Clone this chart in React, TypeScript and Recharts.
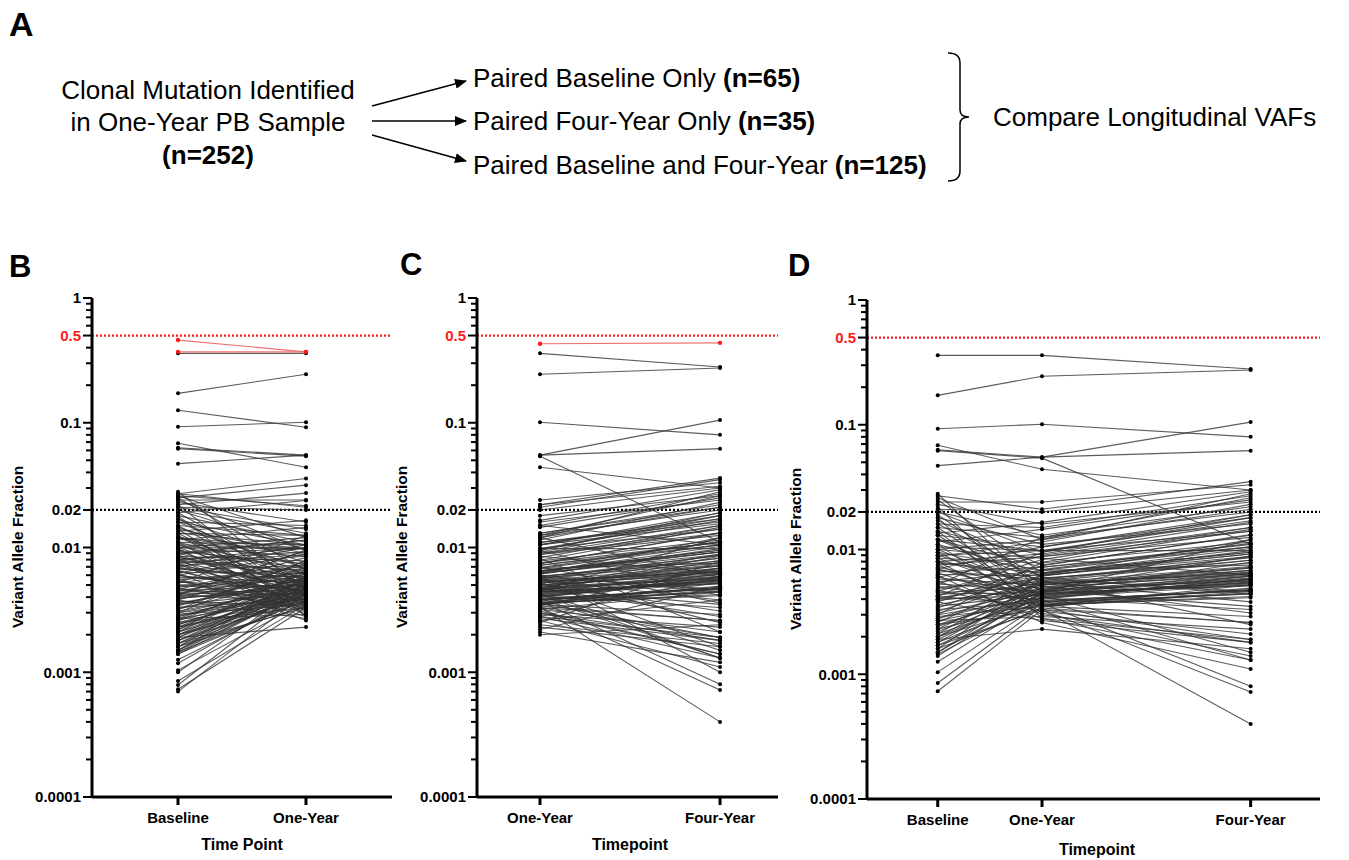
import React from 'react';
import { LineChart, Line, XAxis, YAxis, ReferenceLine } from 'recharts';

const FONT = '"Liberation Sans", Arial, Helvetica, sans-serif';

// ---------- axis ticks / labels ----------
const Y_TICKS = [
  0.0001, 0.0002, 0.0003, 0.0004, 0.0005, 0.0006, 0.0007, 0.0008, 0.0009,
  0.001, 0.002, 0.003, 0.004, 0.005, 0.006, 0.007, 0.008, 0.009,
  0.01, 0.02, 0.03, 0.04, 0.05, 0.06, 0.07, 0.08, 0.09,
  0.1, 0.2, 0.3, 0.4, 0.5, 0.6, 0.7, 0.8, 0.9, 1,
];
const Y_LABEL_VALUES = [1, 0.5, 0.1, 0.02, 0.01, 0.001, 0.0001];
const Y_LABEL_TEXT = ['1', '0.5', '0.1', '0.02', '0.01', '0.001', '0.0001'];
const Y_LABEL_RED = [false, true, false, false, false, false, false];

const B_CATS = ['Baseline', 'One-Year'];
const B_X = [0, 1];
const C_CATS = ['One-Year', 'Four-Year'];
const C_X = [0, 1];
const D_CATS = ['Baseline', 'One-Year', 'Four-Year'];
const D_X = [0, 1, 3];

// ---------- data: [baseline, one-year, four-year] (paired in all three) ----------
const D_TRIPLES: number[][] = [
  [0.36, 0.36, 0.28], [0.172, 0.245, 0.275], [0.093, 0.101, 0.08], [0.0685, 0.044, 0.03],
  [0.063, 0.055, 0.105], [0.062, 0.054, 0.011], [0.047, 0.055, 0.062],
  [0.028, 0.0045, 0.012], [0.027, 0.021, 0.035], [0.026, 0.012, 0.028], [0.025, 0.0065, 0.0095],
  [0.024, 0.024, 0.033], [0.023, 0.016, 0.024], [0.022, 0.0035, 0.0052], [0.021, 0.02, 0.03],
  [0.02, 0.0095, 0.018], [0.02, 0.013, 0.022], [0.019, 0.0052, 0.0068], [0.018, 0.011, 0.016],
  [0.018, 0.0028, 0.0019], [0.017, 0.0075, 0.013], [0.016, 0.015, 0.027], [0.016, 0.006, 0.0044],
  [0.015, 0.0042, 0.0061], [0.015, 0.0125, 0.02], [0.014, 0.0033, 0.0026], [0.014, 0.009, 0.015],
  [0.013, 0.0105, 0.019], [0.013, 0.004, 0.0058], [0.012, 0.0072, 0.0105], [0.012, 0.0098, 0.0098],
  [0.012, 0.0055, 0.0038], [0.0115, 0.0145, 0.025], [0.011, 0.0062, 0.012], [0.011, 0.0031, 0.0014],
  [0.0105, 0.0098, 0.017], [0.01, 0.0085, 0.0062], [0.01, 0.0047, 0.0089], [0.01, 0.012, 0.021],
  [0.0095, 0.0038, 0.0044], [0.0095, 0.0068, 0.0075], [0.009, 0.0098, 0.014], [0.009, 0.0051, 0.0031],
  [0.0088, 0.0115, 0.023], [0.0085, 0.0043, 0.0065], [0.0085, 0.0078, 0.0115], [0.008, 0.0058, 0.0046],
  [0.008, 0.003, 0.0018], [0.008, 0.0092, 0.0165], [0.0078, 0.0065, 0.0095], [0.0075, 0.0036, 0.0041],
  [0.0075, 0.0088, 0.0125], [0.0072, 0.0048, 0.0068], [0.007, 0.0105, 0.018], [0.007, 0.0041, 0.0058],
  [0.0068, 0.0057, 0.0025], [0.0066, 0.0072, 0.011], [0.0065, 0.0035, 0.0045], [0.0063, 0.0062, 0.0088],
  [0.006, 0.0088, 0.014], [0.006, 0.0044, 0.0061], [0.0058, 0.0052, 0.0072], [0.0056, 0.0028, 0.0013],
  [0.0055, 0.0068, 0.0105], [0.0053, 0.0046, 0.0058], [0.0052, 0.0125, 0.026], [0.005, 0.0055, 0.0082],
  [0.005, 0.0039, 0.0047], [0.0048, 0.0064, 0.0092], [0.0047, 0.0032, 0.0021], [0.0046, 0.0083, 0.015],
  [0.0045, 0.005, 0.0062], [0.0044, 0.0045, 0.0051], [0.0043, 0.0059, 0.0078], [0.0042, 0.0036, 0.0042],
  [0.0042, 0.0095, 0.019], [0.0041, 0.0054, 0.0063], [0.004, 0.0043, 0.0015], [0.004, 0.0061, 0.0098],
  [0.0039, 0.0048, 0.0056], [0.0038, 0.0027, 0.0018], [0.0038, 0.0074, 0.0132], [0.0036, 0.0052, 0.0071],
  [0.0035, 0.0044, 0.0054], [0.0034, 0.0069, 0.0112], [0.0033, 0.0038, 0.0048], [0.0032, 0.0058, 0.0082],
  [0.0031, 0.0047, 0.0035], [0.003, 0.0041, 0.0055], [0.003, 0.0079, 0.0145], [0.0029, 0.0035, 0.0029],
  [0.0028, 0.0053, 0.0065], [0.0028, 0.0045, 0.0079], [0.0027, 0.0039, 0.0047], [0.0026, 0.0062, 0.0092],
  [0.0025, 0.0043, 0.0053], [0.0025, 0.0033, 0.0019], [0.0024, 0.0049, 0.0064], [0.0023, 0.0056, 0.0087],
  [0.0023, 0.0037, 0.0044], [0.0022, 0.0046, 0.0057], [0.0021, 0.0041, 0.0033], [0.0021, 0.0064, 0.0102],
  [0.002, 0.0044, 0.0052], [0.002, 0.0036, 0.0049], [0.002, 0.0054, 0.0073], [0.0019, 0.0047, 0.0061],
  [0.0018, 0.0039, 0.0013], [0.0018, 0.0052, 0.0066], [0.0017, 0.0042, 0.0056], [0.0016, 0.0058, 0.0086],
  [0.0016, 0.0034, 0.0026], [0.0015, 0.0044, 0.0054], [0.0015, 0.005, 0.0071], [0.00145, 0.0038, 0.0047],
  [0.0014, 0.0046, 0.0059], [0.00126, 0.0041, 0.0052], [0.00104, 0.0037, 0.0008], [0.00085, 0.0035, 0.0046],
  [0.00073, 0.0033, 0.00072], [0.0017, 0.0033, 0.0004], [0.0019, 0.0023, 0.0016], [0.0135, 0.0165, 0.029],
  [0.0062, 0.0026, 0.0011], [0.0027, 0.0029, 0.0023],
];

// ---------- data: paired baseline / one-year only ----------
const B_ONLY: number[][] = [
  [0.126, 0.092], [0.027, 0.0357], [0.025, 0.0316], [0.022, 0.0273], [0.019, 0.0238], [0.026, 0.0216],
  [0.024, 0.0095], [0.021, 0.014], [0.017, 0.0048], [0.016, 0.0105], [0.0145, 0.0068], [0.013, 0.0125],
  [0.0125, 0.0035], [0.012, 0.0088], [0.011, 0.0105], [0.0105, 0.0052], [0.01, 0.0098], [0.0098, 0.0031],
  [0.0093, 0.0074], [0.009, 0.0115], [0.0087, 0.0042], [0.0083, 0.0062], [0.008, 0.0099], [0.0077, 0.0047],
  [0.0074, 0.0029], [0.0071, 0.0085], [0.0068, 0.0054], [0.0065, 0.0038], [0.0062, 0.0101], [0.006, 0.0045],
  [0.0057, 0.0059], [0.0054, 0.0033], [0.0052, 0.0071], [0.0049, 0.0049], [0.0047, 0.0037], [0.0045, 0.0063],
  [0.0043, 0.0042], [0.0041, 0.0095], [0.0039, 0.0051], [0.0037, 0.0034], [0.0035, 0.0056], [0.0033, 0.0044],
  [0.0032, 0.0078], [0.003, 0.0049], [0.0029, 0.0039], [0.0027, 0.0058], [0.0026, 0.0046], [0.0024, 0.0053],
  [0.0023, 0.0041], [0.0022, 0.0066], [0.0021, 0.0048], [0.002, 0.0039], [0.0019, 0.0055], [0.0018, 0.0045],
  [0.0017, 0.0051], [0.0016, 0.0043], [0.0015, 0.0058], [0.00145, 0.0047], [0.0014, 0.0038], [0.00118, 0.0044],
  [0.001, 0.0052], [0.00079, 0.0049], [0.0007, 0.0043],
];
const B_RED: number[][] = [[0.46, 0.37], [0.37, 0.37]];

// ---------- data: paired one-year / four-year only ----------
const C_ONLY: number[][] = [
  [0.022, 0.036], [0.022, 0.031], [0.018, 0.026], [0.015, 0.0105], [0.013, 0.021], [0.012, 0.0058],
  [0.011, 0.017], [0.0105, 0.0155], [0.0095, 0.0041], [0.009, 0.013], [0.0082, 0.0021], [0.0075, 0.011],
  [0.007, 0.0036], [0.0065, 0.0092], [0.006, 0.001], [0.0057, 0.0075], [0.0053, 0.0016], [0.005, 0.0064],
  [0.0047, 0.0028], [0.0045, 0.0085], [0.0042, 0.0013], [0.004, 0.0055], [0.0038, 0.0047], [0.0036, 0.0019],
  [0.0034, 0.0069], [0.0032, 0.0044], [0.003, 0.0014], [0.0028, 0.0058], [0.0026, 0.0038], [0.0024, 0.0017],
  [0.0022, 0.0049], [0.002, 0.0024], [0.0021, 0.0012], [0.0025, 0.0078],
];
const C_RED: number[][] = [[0.43, 0.437]];

// ---------- helpers ----------
function buildRows(xs: number[], series: number[][]) {
  return xs.map((x, i) => {
    const r: Record<string, number> = { x };
    series.forEach((s, k) => {
      r['s' + k] = s[i];
    });
    return r;
  });
}

const renderYTick = (props: any) => {
  const { x, y, payload } = props;
  const v = payload.value as number;
  const idx = Y_LABEL_VALUES.findIndex((l) => Math.abs(l - v) / v < 1e-6);
  const len = idx >= 0 ? 9 : 6;
  return (
    <g>
      <line x1={x - len} x2={x} y1={y} y2={y} stroke="#000" strokeWidth={2} />
      {idx >= 0 && (
        <text
          x={x - 11}
          y={y}
          dy="0.36em"
          textAnchor="end"
          fontSize={15}
          fontWeight={700}
          fontFamily={FONT}
          fill={Y_LABEL_RED[idx] ? '#ff1a1a' : '#000'}
        >
          {Y_LABEL_TEXT[idx]}
        </text>
      )}
    </g>
  );
};

type PanelProps = {
  left: number;
  top: number;
  width: number;
  yAxisW: number;
  xDomain: [number, number];
  xs: number[];
  cats: string[];
  black: number[][];
  red: number[][];
};

function Panel({ left, top, width, yAxisW, xDomain, xs, cats, black, red }: PanelProps) {
  const all = [...black, ...red];
  const rows = buildRows(xs, all);
  return (
    <div style={{ position: 'absolute', left, top }}>
      <LineChart
        width={width}
        height={569}
        data={rows}
        margin={{ top: 10, right: 3, bottom: 0, left: 0 }}
        style={{ fontFamily: FONT }}
      >
        <XAxis
          type="number"
          dataKey="x"
          domain={xDomain}
          allowDataOverflow
          ticks={xs}
          interval={0}
          height={60}
          tickFormatter={(v: number) => cats[xs.indexOf(v)] ?? ''}
          axisLine={{ stroke: '#000', strokeWidth: 3 }}
          tickLine={{ stroke: '#000', strokeWidth: 3 }}
          tickSize={8}
          tickMargin={7}
          tick={{ fill: '#000', fontSize: 15, fontWeight: 700, fontFamily: FONT }}
        />
        <YAxis
          type="number"
          scale="log"
          domain={[0.0001, 1]}
          allowDataOverflow
          ticks={Y_TICKS}
          interval={0}
          width={yAxisW}
          axisLine={{ stroke: '#000', strokeWidth: 3 }}
          tickLine={false}
          tickSize={0}
          tickMargin={0}
          tick={renderYTick}
        />
        <ReferenceLine y={0.5} stroke="#ff1a1a" strokeWidth={2.2} strokeDasharray="2 2" />
        <ReferenceLine y={0.02} stroke="#000" strokeWidth={2.2} strokeDasharray="2 2" />
        {black.map((_, k) => (
          <Line
            key={'b' + k}
            dataKey={'s' + k}
            type="linear"
            stroke="#333"
            strokeOpacity={0.8}
            strokeWidth={1.1}
            dot={{ r: 2, fill: '#000', stroke: 'none' }}
            activeDot={false}
            isAnimationActive={false}
          />
        ))}
        {red.map((_, k) => (
          <Line
            key={'r' + k}
            dataKey={'s' + (black.length + k)}
            type="linear"
            stroke="#f07070"
            strokeWidth={1.2}
            dot={{ r: 2.2, fill: '#ff1a1a', stroke: 'none' }}
            activeDot={false}
            isAnimationActive={false}
          />
        ))}
      </LineChart>
    </div>
  );
}

export default function App() {
  const bBlack = [...D_TRIPLES.map((t) => [t[0], t[1]]), ...B_ONLY];
  const cBlack = [...D_TRIPLES.map((t) => [t[1], t[2]]), ...C_ONLY];
  const dBlack = D_TRIPLES;
  const txt = { fontFamily: FONT, fill: '#000' } as const;
  return (
    <div style={{ position: 'absolute', left: 0, top: 0, width: 1349, height: 860, background: '#fff' }}>
      <svg width={1349} height={860} style={{ position: 'absolute', left: 0, top: 0 }}>
        <defs>
          <marker id="ah" markerWidth="12" markerHeight="10" refX="11" refY="5" orient="auto" markerUnits="userSpaceOnUse">
            <path d="M0,0 L12,5 L0,10 z" fill="#000" />
          </marker>
        </defs>
        {/* Panel A */}
        <text x={9} y={36} fontSize={34} fontWeight={700} {...txt}>A</text>
        <text x={208} y={99} fontSize={26} textAnchor="middle" {...txt}>Clonal Mutation Identified</text>
        <text x={208} y={131} fontSize={26} textAnchor="middle" {...txt}>in One-Year PB Sample</text>
        <text x={208} y={164} fontSize={26} fontWeight={700} textAnchor="middle" {...txt}>(n=252)</text>
        <line x1={372} y1={106} x2={466} y2={81} stroke="#000" strokeWidth={1.5} markerEnd="url(#ah)" />
        <line x1={372} y1={121} x2={466} y2={121} stroke="#000" strokeWidth={1.5} markerEnd="url(#ah)" />
        <line x1={372} y1={135} x2={466} y2={161} stroke="#000" strokeWidth={1.5} markerEnd="url(#ah)" />
        <text x={473} y={87} fontSize={26} {...txt}>
          Paired Baseline Only <tspan fontWeight={700}>(n=65)</tspan>
        </text>
        <text x={473} y={130} fontSize={26} {...txt}>
          Paired Four-Year Only <tspan fontWeight={700}>(n=35)</tspan>
        </text>
        <text x={473} y={174} fontSize={26} {...txt}>
          Paired Baseline and Four-Year <tspan fontWeight={700}>(n=125)</tspan>
        </text>
        <path
          d="M948,53 Q960,53 960,63 L960,110 Q960,117 969,117 Q960,117 960,124 L960,171 Q960,181 948,181"
          fill="none"
          stroke="#000"
          strokeWidth={1.5}
        />
        <text x={993} y={126} fontSize={26} {...txt}>Compare Longitudinal VAFs</text>

        {/* Panel letters */}
        <text x={9} y={277} fontSize={31} fontWeight={700} {...txt}>B</text>
        <text x={400} y={275} fontSize={31} fontWeight={700} {...txt}>C</text>
        <text x={788} y={276} fontSize={31} fontWeight={700} {...txt}>D</text>

        {/* Axis titles */}
        <text transform="translate(17,547) rotate(-90)" fontSize={15.5} fontWeight={700} textAnchor="middle" dominantBaseline="central" {...txt}>Variant Allele Fraction</text>
        <text transform="translate(401,547) rotate(-90)" fontSize={15.5} fontWeight={700} textAnchor="middle" dominantBaseline="central" {...txt}>Variant Allele Fraction</text>
        <text transform="translate(795,549) rotate(-90)" fontSize={15.5} fontWeight={700} textAnchor="middle" dominantBaseline="central" {...txt}>Variant Allele Fraction</text>
        <text x={242} y={844} fontSize={16} fontWeight={700} textAnchor="middle" dominantBaseline="central" {...txt}>Time Point</text>
        <text x={630} y={844} fontSize={16} fontWeight={700} textAnchor="middle" dominantBaseline="central" {...txt}>Timepoint</text>
        <text x={1097} y={849} fontSize={16} fontWeight={700} textAnchor="middle" dominantBaseline="central" {...txt}>Timepoint</text>
      </svg>

      <Panel left={0} top={288} width={395} yAxisW={92} xDomain={[-0.672, 1.672]} xs={B_X} cats={B_CATS} black={bBlack} red={B_RED} />
      <Panel left={395} top={288} width={386} yAxisW={82} xDomain={[-0.35, 1.322]} xs={C_X} cats={C_CATS} black={cBlack} red={C_RED} />
      <Panel left={780} top={290} width={543} yAxisW={87} xDomain={[-0.678, 3.665]} xs={D_X} cats={D_CATS} black={dBlack} red={[]} />
    </div>
  );
}
